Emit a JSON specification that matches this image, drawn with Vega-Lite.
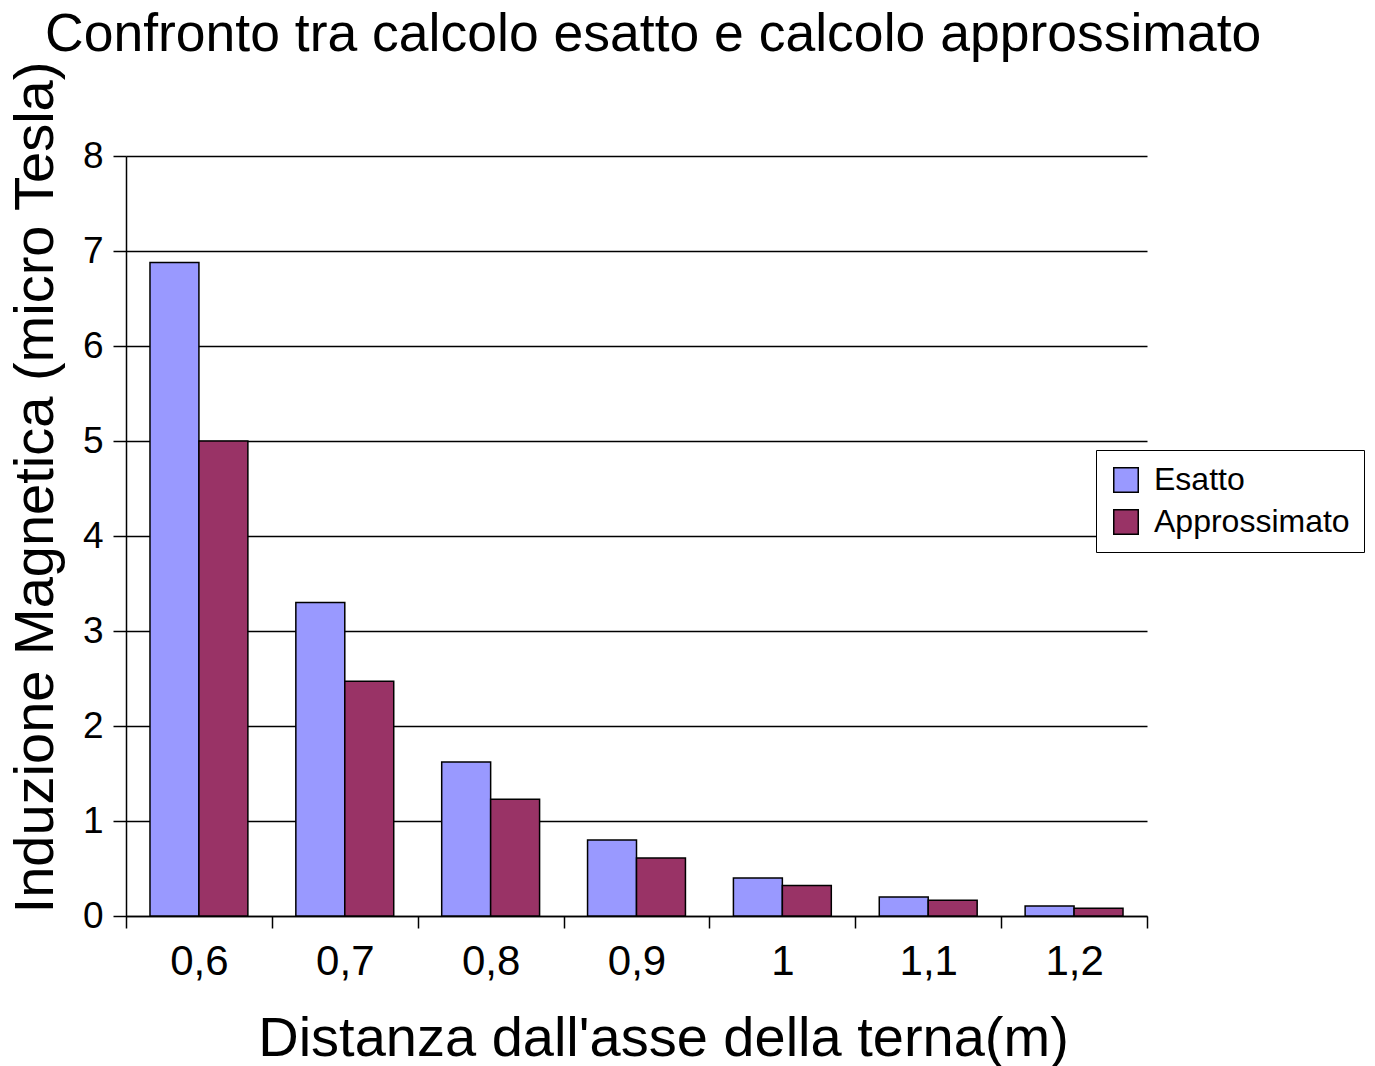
{
  "$schema": "https://vega.github.io/schema/vega-lite/v6.json",
  "width": 1021,
  "height": 760,
  "autosize": {"type": "none"},
  "padding": {"left": 126, "top": 156, "right": 228, "bottom": 150},
  "background": "white",
  "config": {
    "font": "Liberation Sans",
    "view": {"stroke": null}
  },
  "title": {
    "text": "Confronto tra calcolo esatto e calcolo approssimato",
    "anchor": "start",
    "frame": "group",
    "font": "Liberation Sans",
    "fontSize": 53.5,
    "fontWeight": "normal",
    "color": "black",
    "dx": -81,
    "dy": 54,
    "baseline": "alphabetic",
    "offset": 10
  },
  "data": {
    "values": [
      {"d": "0,6", "serie": "Esatto", "B": 6.88},
      {"d": "0,6", "serie": "Approssimato", "B": 5.0},
      {"d": "0,7", "serie": "Esatto", "B": 3.3},
      {"d": "0,7", "serie": "Approssimato", "B": 2.47},
      {"d": "0,8", "serie": "Esatto", "B": 1.62},
      {"d": "0,8", "serie": "Approssimato", "B": 1.23},
      {"d": "0,9", "serie": "Esatto", "B": 0.8},
      {"d": "0,9", "serie": "Approssimato", "B": 0.61},
      {"d": "1", "serie": "Esatto", "B": 0.4},
      {"d": "1", "serie": "Approssimato", "B": 0.32},
      {"d": "1,1", "serie": "Esatto", "B": 0.2},
      {"d": "1,1", "serie": "Approssimato", "B": 0.165},
      {"d": "1,2", "serie": "Esatto", "B": 0.105},
      {"d": "1,2", "serie": "Approssimato", "B": 0.082}
    ]
  },
  "mark": {"type": "bar", "stroke": "black", "strokeWidth": 1.5},
  "encoding": {
    "x": {
      "field": "d",
      "type": "ordinal",
      "sort": ["0,6", "0,7", "0,8", "0,9", "1", "1,1", "1,2"],
      "scale": {"paddingInner": 0, "paddingOuter": 0},
      "axis": {
        "title": "Distanza dall'asse della terna(m)",
        "titleFont": "Liberation Sans",
        "titleFontSize": 56,
        "titleFontWeight": "normal",
        "titleColor": "black",
        "titleX": 537,
        "titleY": 139,
        "titleAlign": "center",
        "titleBaseline": "alphabetic",
        "labelAngle": 0,
        "labelFontSize": 42,
        "labelColor": "black",
        "labelPadding": 13,
        "ticks": true,
        "tickBand": "extent",
        "tickSize": 12,
        "tickColor": "black",
        "tickWidth": 1.5,
        "domainColor": "black",
        "domainWidth": 1.5,
        "grid": false
      }
    },
    "xOffset": {
      "field": "serie",
      "sort": ["Esatto", "Approssimato"],
      "scale": {"paddingInner": 0, "paddingOuter": 0.49}
    },
    "y": {
      "field": "B",
      "type": "quantitative",
      "scale": {"domain": [0, 8], "nice": false},
      "axis": {
        "title": "Induzione Magnetica (micro Tesla)",
        "titleFont": "Liberation Sans",
        "titleFontSize": 56,
        "titleFontWeight": "normal",
        "titleColor": "black",
        "titleAngle": -90,
        "titleX": -74,
        "titleY": 331,
        "titleAlign": "center",
        "titleBaseline": "alphabetic",
        "values": [0, 1, 2, 3, 4, 5, 6, 7, 8],
        "labelFontSize": 37,
        "labelColor": "black",
        "labelPadding": 10,
        "tickSize": 13,
        "tickColor": "black",
        "tickWidth": 1.5,
        "domainColor": "black",
        "domainWidth": 1.5,
        "grid": true,
        "gridColor": "black",
        "gridWidth": 1.5,
        "gridOpacity": 1
      }
    },
    "fill": {
      "field": "serie",
      "type": "nominal",
      "sort": ["Esatto", "Approssimato"],
      "scale": {"domain": ["Esatto", "Approssimato"], "range": ["#9999FF", "#993366"]},
      "legend": {
        "title": null,
        "orient": "none",
        "legendX": 970,
        "legendY": 294,
        "strokeColor": "black",
        "fillColor": "white",
        "padding": 14,
        "symbolType": "square",
        "symbolSize": 600,
        "symbolStrokeColor": "black",
        "symbolStrokeWidth": 1.5,
        "labelFontSize": 32,
        "labelColor": "black",
        "labelLimit": 400,
        "rowPadding": 10,
        "labelOffset": 12
      }
    }
  }
}
